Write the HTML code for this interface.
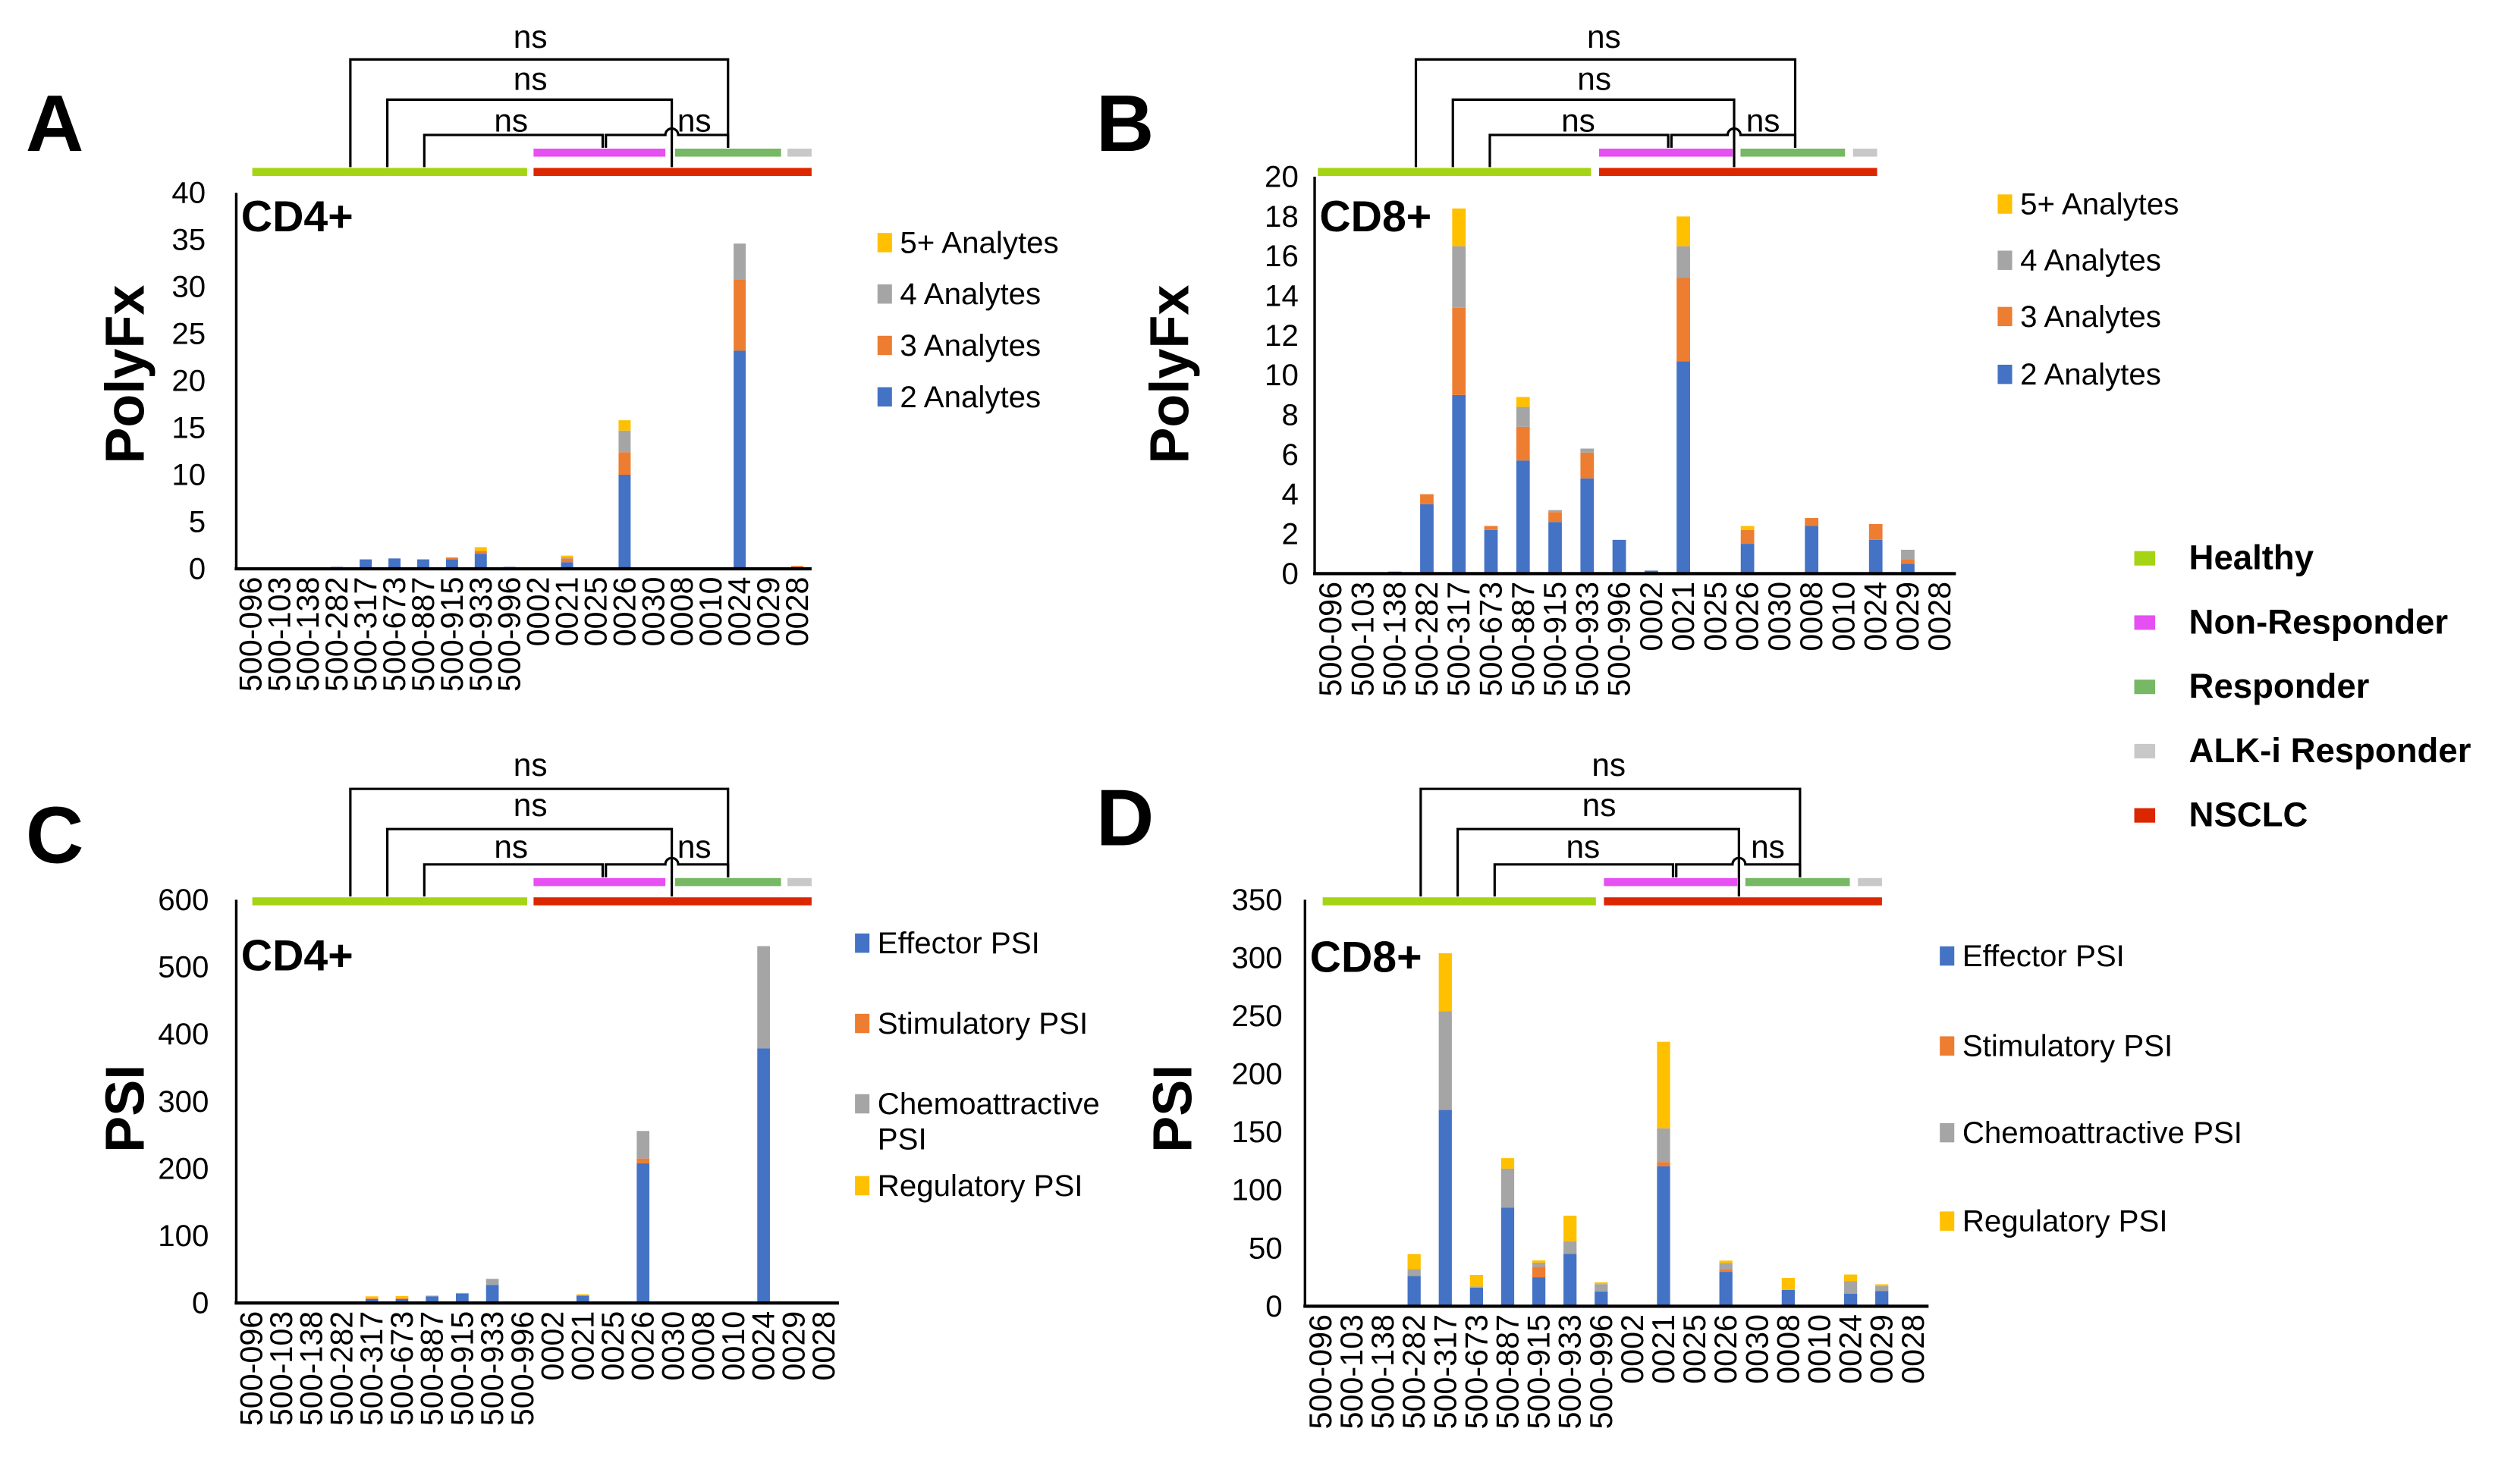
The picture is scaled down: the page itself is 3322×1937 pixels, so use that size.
<!DOCTYPE html>
<html><head><meta charset="utf-8">
<style>
html,body{margin:0;padding:0;background:#fff;}
svg{display:block;}
text{font-family:"Liberation Sans",Arial,sans-serif;}
</style></head>
<body>
<svg id="fig" xmlns="http://www.w3.org/2000/svg" width="3322" height="1937" viewBox="0 0 1568 914.3" preserveAspectRatio="none">
<rect x="0" y="0" width="1568" height="914.3" fill="#fff"/>
</svg>
<script>
const categories = ["500-096","500-103","500-138","500-282","500-317","500-673","500-887","500-915","500-933","500-996","0002","0021","0025","0026","0030","0008","0010","0024","0029","0028"];

const polyNames = ["2 Analytes","3 Analytes","4 Analytes","5+ Analytes"];
const psiNames = ["Effector PSI","Stimulatory PSI","Chemoattractive PSI","Regulatory PSI"];

const cd4Poly2 = [0,0,0,0.2,1.0,1.1,1.0,1.0,1.6,0.2,0,0.7,0,10,0,0,0,23.2,0,0];
const cd4Poly3 = [0,0,0,0,0,0,0,0.2,0.3,0,0,0.4,0,2.4,0,0,0,7.6,0,0.3];
const cd4Poly4 = [0,0,0,0,0,0,0,0,0,0,0,0.1,0,2.3,0,0,0,3.8,0,0];
const cd4Poly5 = [0,0,0,0,0,0,0,0,0.4,0,0,0.2,0,1.1,0,0,0,0,0,0];

const cd8Poly2 = [0,0,0.1,3.5,9.0,2.2,5.7,2.6,4.8,1.7,0.15,10.7,0,1.5,0,2.4,0,1.7,0.5,0];
const cd8Poly3 = [0,0,0,0.5,4.4,0.2,1.7,0.5,1.3,0,0,4.2,0,0.7,0,0.4,0,0.8,0.2,0];
const cd8Poly4 = [0,0,0,0,3.1,0,1.0,0.1,0.2,0,0,1.6,0,0,0,0,0,0,0.5,0];
const cd8Poly5 = [0,0,0,0,1.9,0,0.5,0,0,0,0,1.5,0,0.2,0,0,0,0,0,0];

const cd4Effector = [0,0,0,2,6,6,10,14,27,0,0,11,0,208,0,0,0,379,0,0];
const cd4Stim = [0,0,0,0,1,1,0,0,0,0,0,0,0,7,0,0,0,0,0,0];
const cd4Chemo = [0,0,0,0,0,0,1,1,9,0,0,0,0,41,0,0,0,152,0,0];
const cd4Reg = [0,0,0,0,3,3.5,0,0,0,2,0,2,0,0,0,0,0,0,0,0];

const cd8Effector = [0,0,0,26,169,16,85,25,45,12.6,0,120.6,0,29.6,0,14,0,10.7,13,0];
const cd8Stim = [0,0,0,0,0,0,0,9,0,0,0,3.6,0,2.4,0,0,0,0,0,0];
const cd8Chemo = [0,0,1,6,85,1,33.5,3.5,11,6.5,0,29,0,5.3,0,0,0,11,4.4,0];
const cd8Reg = [0,0,0,13,50,10,9,2,22,1.5,0,74.5,0,2,0,10.4,0,5.6,1.5,0];

const ticksA = [0,5,10,15,20,25,30,35,40];
const ticksB = [0,2,4,6,8,10,12,14,16,18,20];
const ticksC = [0,100,200,300,400,500,600];
const ticksD = [0,50,100,150,200,250,300,350];

const colors = ["#4472C4","#ED7D31","#A5A5A5","#FFC000"];
const NS = "http://www.w3.org/2000/svg";
const svg = document.getElementById("fig");

function mk(tag, attrs, parent) {
  const e = document.createElementNS(NS, tag);
  for (const k in attrs) e.setAttribute(k, attrs[k]);
  (parent || svg).appendChild(e);
  return e;
}
function txt(s, attrs, parent) {
  const e = mk("text", attrs, parent);
  e.textContent = s;
  return e;
}

function drawPanel(p) {
  const g = mk("g", {});
  
  
  const n = categories.length;
  const cw = (p.x1 - p.x0) / n;
  const xC = i => p.x0 + cw * (i + 0.5);
  const yS = v => p.yBot - (v / p.max) * (p.yBot - p.yTop);
  // bars
  categories.forEach((c, i) => {
    let acc = 0;
    p.series.forEach((s, si) => {
      const v = s[i];
      if (v > 0) {
        const r = mk("rect", {x: xC(i) - cw * 0.21, y: yS(acc + v), width: cw * 0.42, height: yS(acc) - yS(acc + v), fill: colors[si]}, g);
        
        
        acc += v;
      }
    });
  });
  // axes
  const ya = mk("line", {x1: p.x0, y1: p.yTop, x2: p.x0, y2: p.yBot, stroke: "#000", "stroke-width": 1.6}, g);
  
  
  const xa = mk("line", {x1: p.x0 - 1, y1: p.yBot, x2: p.x1, y2: p.yBot, stroke: "#000", "stroke-width": 2}, g);
  
  
  p.ticks.forEach(t => {
    const tl = txt(String(t), {x: p.tickX, y: yS(t), "font-size": 19, "text-anchor": "end", "dominant-baseline": "central", fill: "#000"}, g);
    
    
  });
  categories.forEach((c, i) => {
    const cl = txt(c, {x: 0, y: 0, "font-size": 19.5, "text-anchor": "end", "dominant-baseline": "central", transform: "translate(" + xC(i) + "," + (p.yBot + 5) + ") rotate(-90)", fill: "#000"}, g);
    
    
  });
  // y title
  const yt = txt(p.ytitle, {x: 0, y: 0, "font-size": 34, "font-weight": "bold", "text-anchor": "middle", "dominant-baseline": "central", transform: "translate(" + p.ytX + "," + p.ytY + ") rotate(-90)"}, g);
  
  
  const ct = txt(p.cell, {x: p.x0 + 3, y: p.cellY, "font-size": 27, "font-weight": "bold"}, g);
  
  
  const pl = txt(p.letter, {x: p.letterX, y: p.letterY, "font-size": 50, "font-weight": "bold"}, g);
  
  
  // legend
  p.legend.forEach((L, k) => {
    const sq = mk("rect", {x: p.legX, y: L.y - 6, width: 9, height: 12, fill: colors[L.s]}, g);
    
    
    L.lines.forEach((ln, j) => {
      const lt = txt(ln, {x: p.legX + 14, y: L.y + j * 22, "font-size": 19, "dominant-baseline": "central"}, g);
      
      
    });
  });
  // group bars and brackets
  const dx = p.bx, dy = p.by;
  p.groups.forEach(gr => {
    const b = mk("rect", {x: gr[0], y: gr[2] + dy - 2.5, width: gr[1] - gr[0], height: 5, fill: gr[3]}, g);
    
    
  });
  const o = p.br;
  const paths = [
    "M" + o[0] + "," + (104 + dy) + " V" + (37 + dy) + " H" + o[4] + " V" + (92 + dy),
    "M" + o[1] + "," + (104 + dy) + " V" + (62 + dy) + " H" + o[5] + " V" + (104 + dy),
    "M" + o[2] + "," + (104 + dy) + " V" + (84 + dy) + " H" + o[3] + " V" + (92 + dy),
    "M" + (o[3] + 2) + "," + (92 + dy) + " V" + (84 + dy) + " H" + (o[5] - 4) + " a4,4 0 0 1 8,0 H" + o[4] + " V" + (92 + dy)
  ];
  paths.forEach(d => {
    const pa = mk("path", {d: d, fill: "none", stroke: "#000", "stroke-width": 1.5}, g);
    
    
  });
  p.ns.forEach(q => {
    const t = txt("ns", {x: q[0], y: q[1] + dy, "font-size": 20, "text-anchor": "middle", "dominant-baseline": "central"}, g);
    
    
  });
}

const gA = [[157,328,107,"#A5D414"],[332,505,107,"#DC2600"],[332,414,95,"#E64FF2"],[420,486,95,"#76B863"],[490,505,95,"#C8C8C8"]];
const gB = [[820,990,107,"#A5D414"],[995,1168,107,"#DC2600"],[995,1078,95,"#E64FF2"],[1083,1148,95,"#76B863"],[1153,1168,95,"#C8C8C8"]];
const gD = gB.map(r => [r[0]+3, r[1]+3, r[2], r[3]]);

drawPanel({name:"panel-a", letter:"A", letterX:16, letterY:94, x0:147, x1:505, yTop:120, yBot:354, max:40, ticks:ticksA, tickX:128,
  series:[cd4Poly2,cd4Poly3,cd4Poly4,cd4Poly5], names:polyNames, ytitle:"PolyFx", ytX:78, ytY:233, cell:"CD4+", cellY:144,
  legX:546, legend:[{y:151,s:3,lines:["5+ Analytes"]},{y:183,s:2,lines:["4 Analytes"]},{y:215,s:1,lines:["3 Analytes"]},{y:247,s:0,lines:["2 Analytes"]}],
  groups:gA, bx:0, by:0, br:[218,241,264,375,453,418], ns:[[330,23],[330,49],[318,75],[432,75]]});

drawPanel({name:"panel-b", letter:"B", letterX:682, letterY:94, x0:818, x1:1217, yTop:110, yBot:357, max:20, ticks:ticksB, tickX:808,
  series:[cd8Poly2,cd8Poly3,cd8Poly4,cd8Poly5], names:polyNames, ytitle:"PolyFx", ytX:728, ytY:233, cell:"CD8+", cellY:144,
  legX:1243, legend:[{y:127,s:3,lines:["5+ Analytes"]},{y:162,s:2,lines:["4 Analytes"]},{y:197,s:1,lines:["3 Analytes"]},{y:233,s:0,lines:["2 Analytes"]}],
  groups:gB, bx:0, by:0, br:[881,904,927,1038,1117,1079], ns:[[998,23],[992,49],[982,75],[1097,75]]});

drawPanel({name:"panel-c", letter:"C", letterX:16, letterY:537, x0:147, x1:522, yTop:560, yBot:811, max:600, ticks:ticksC, tickX:130,
  series:[cd4Effector,cd4Stim,cd4Chemo,cd4Reg], names:psiNames, ytitle:"PSI", ytX:78, ytY:690, cell:"CD4+", cellY:604,
  legX:532, legend:[{y:587,s:0,lines:["Effector PSI"]},{y:637,s:1,lines:["Stimulatory PSI"]},{y:687,s:2,lines:["Chemoattractive","PSI"]},{y:738,s:3,lines:["Regulatory PSI"]}],
  groups:gA, bx:0, by:454, br:[218,241,264,375,453,418], ns:[[330,22],[330,47],[318,73],[432,73]]});

drawPanel({name:"panel-d", letter:"D", letterX:682, letterY:526, x0:812, x1:1200, yTop:560, yBot:813, max:350, ticks:ticksD, tickX:798,
  series:[cd8Effector,cd8Stim,cd8Chemo,cd8Reg], names:psiNames, ytitle:"PSI", ytX:730, ytY:690, cell:"CD8+", cellY:605,
  legX:1207, legend:[{y:595,s:0,lines:["Effector PSI"]},{y:651,s:1,lines:["Stimulatory PSI"]},{y:705,s:2,lines:["Chemoattractive PSI"]},{y:760,s:3,lines:["Regulatory PSI"]}],
  groups:gD, bx:3, by:454, br:[884,907,930,1041,1120,1082], ns:[[1001,22],[995,47],[985,73],[1100,73]]});

// group legend
const groupNames = ["Healthy","Non-Responder","Responder","ALK-i Responder","NSCLC"];
const groupColors = ["#A5D414","#E64FF2","#76B863","#C8C8C8","#DC2600"];
const lg = mk("g", {});


groupNames.forEach((nm, i) => {
  const y = 347 + i * 40;
  const s = mk("rect", {x: 1328, y: y - 4, width: 13, height: 9, fill: groupColors[i]}, lg);
  
  
  const t = txt(nm, {x: 1362, y: y, "font-size": 21.5, "font-weight": "bold", "dominant-baseline": "central"}, lg);
  
  
});
</script>
</body></html>
